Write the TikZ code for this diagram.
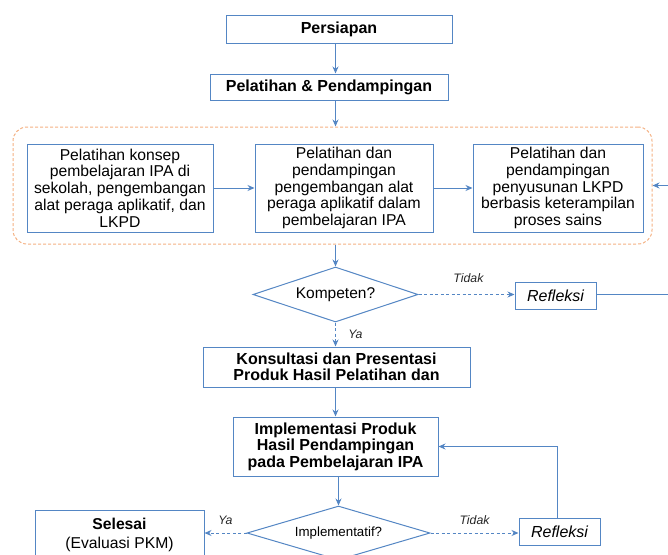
\documentclass[tikz,border=0pt]{standalone}
\usepackage{fontspec}
\setmainfont{Liberation Sans}
\usetikzlibrary{shapes.geometric, arrows.meta}

\definecolor{garis}{RGB}{84,134,196}
\definecolor{bingkai}{RGB}{244,177,131}

\begin{document}
\begin{tikzpicture}[
    x=1pt, y=-1pt,
    % Estilo para las cajas del proceso
    kotak/.style={draw=garis, line width=1pt, fill=white, align=center, inner sep=1pt,
        font=\fontsize{15.7}{16.7}\selectfont},
    tebal/.style={font=\fontsize{16}{15.5}\selectfont\bfseries},
    % Estilo para las decisiones
    putusan/.style={diamond, draw=garis, line width=1pt, fill=white, inner sep=0pt, align=center},
    % Estilo para las flechas
    panah/.style={garis, line width=1pt, -{Stealth[length=7pt, width=6pt]}},
    panahputus/.style={panah, dash pattern=on 3pt off 2.5pt},
    % Estilo para las etiquetas Ya / Tidak
    label/.style={text=black!85, font=\fontsize{12.3}{14}\selectfont\itshape}
]
    \useasboundingbox (0,0) rectangle (668,554);

    % ==========================================
    % PARTE SUPERIOR: PREPARACION
    % ==========================================
    \node[kotak, tebal, minimum width=226, minimum height=28] (persiapan) at (339,29) {Persiapan};
    \node[kotak, tebal, minimum width=238, minimum height=26] (pelatihan) at (329,87) {Pelatihan \& Pendampingan};

    % Grupo de actividades (marco naranja)
    \node[draw=bingkai, line width=1pt, dash pattern=on 3pt off 2pt, rounded corners=14pt,
        minimum width=639, minimum height=117] (grupo) at (332.5,185.5) {};

    \node[kotak, minimum width=186, minimum height=88] (konsep) at (120,188)
        {Pelatihan konsep\\pembelajaran IPA di\\sekolah, pengembangan\\alat peraga aplikatif, dan\\LKPD};
    \node[kotak, minimum width=178, minimum height=88] (alat) at (344,188)
        {Pelatihan dan\\pendampingan\\pengembangan alat\\peraga aplikatif dalam\\pembelajaran IPA};
    \node[kotak, minimum width=170, minimum height=88] (lkpd) at (558,188)
        {Pelatihan dan\\pendampingan\\penyusunan LKPD\\berbasis keterampilan\\proses sains};

    % ==========================================
    % PARTE CENTRAL: EVALUACION
    % ==========================================
    \node[putusan, aspect=3, minimum width=165, minimum height=55, font=\fontsize{15.5}{17}\selectfont]
        (kompeten) at (335.5,294.5) {Kompeten?};
    \node[kotak, minimum width=81, minimum height=27, font=\fontsize{16}{17}\selectfont\itshape]
        (refleksiA) at (555.5,295.5) {Refleksi};
    \coordinate (luar) at (700,295.5); % fuera de la imagen

    \node[kotak, tebal, minimum width=267, minimum height=40] (konsultasi) at (336.5,367)
        {Konsultasi dan Presentasi\\Produk Hasil Pelatihan dan};
    \node[kotak, tebal, minimum width=205, minimum height=59, font=\fontsize{16}{16.6}\selectfont\bfseries]
        (implementasi) at (335.5,446.5) {Implementasi Produk\\Hasil Pendampingan\\pada Pembelajaran IPA};

    % ==========================================
    % PARTE INFERIOR: FINAL
    % ==========================================
    \node[putusan, aspect=3.4, minimum width=183, minimum height=54, font=\fontsize{13.3}{15}\selectfont]
        (implementatif) at (338.5,533) {Implementatif?};
    \node[kotak, minimum width=169, minimum height=50, font=\fontsize{15.7}{18.5}\selectfont] (selesai) at (119.5,535)
        {\textbf{Selesai}\\(Evaluasi PKM)};
    \node[kotak, minimum width=81, minimum height=27, font=\fontsize{16}{17}\selectfont\itshape]
        (refleksiB) at (559.5,531.5) {Refleksi};

    % Flechas
    \draw[panah] (persiapan.south -| kompeten.north) -- (pelatihan.north -| kompeten.north);
    \draw[panah] (pelatihan.south -| kompeten.north) -- (grupo.north -| kompeten.north);
    \draw[panah] (konsep) -- (alat);
    \draw[panah] (alat) -- (lkpd);
    \draw[panah] (grupo.south -| kompeten.north) -- (kompeten.north);

    \draw[panahputus] (kompeten.east) -- (kompeten.east -| refleksiA.west)
        node[label, pos=0.52, above=8pt] {Tidak};
    \draw[panah] (refleksiA.east |- kompeten.east) -- (luar |- kompeten.east) |- (grupo.east);
    \draw[panahputus] (kompeten.south) -- (kompeten.south |- konsultasi.north)
        node[label, midway, right=9pt] {Ya};

    \draw[panah] (konsultasi.south -| kompeten.north) -- (implementasi.north -| kompeten.north);
    \draw[panah] (implementasi.south -| implementatif.north) -- (implementatif.north);

    \draw[panahputus] (implementatif.west) -- (implementatif.west -| selesai.east)
        node[label, midway, above=5pt] {Ya};
    \draw[panahputus] (implementatif.east) -- (implementatif.east -| refleksiB.west)
        node[label, midway, above=5pt] {Tidak};
    \draw[panah] (refleksiB.north -| 557,0) |- (implementasi.east);

\end{tikzpicture}
\end{document}
